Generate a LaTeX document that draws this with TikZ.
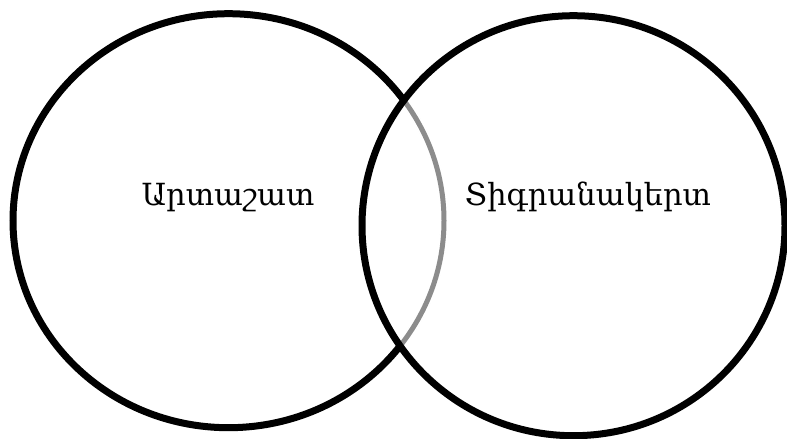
\documentclass[tikz,border=0pt]{standalone}
\usepackage{fontspec}
\newfontfamily\armfont{DejaVu Serif}
\begin{document}
\begin{tikzpicture}[x=1pt,y=-1pt,
  ring/.style={draw=black,line width=7pt},
  inner/.style={draw=black!45,line width=5pt},
  lbl/.style={font=\armfont\fontsize{30.5}{34}\selectfont,anchor=base,inner sep=0pt}]
\useasboundingbox (0,0) rectangle (787,439);
\draw[ring] (228.5,220.7) ellipse [x radius=215.5, y radius=207];
\begin{scope}
  \clip (573.5,225.7) ellipse [x radius=211.5, y radius=210];
  \draw[draw=white,line width=8.5pt] (228.5,220.7) ellipse [x radius=215.5, y radius=207];
  \draw[inner] (228.5,220.7) ellipse [x radius=215.5, y radius=207];
\end{scope}
\draw[ring] (573.5,225.7) ellipse [x radius=211.5, y radius=210];
\node[lbl] (a) at (228,205) {Արտաշատ};
\node[lbl] (b) at (588,205) {Տիգրանակերտ};
\end{tikzpicture}
\end{document}
